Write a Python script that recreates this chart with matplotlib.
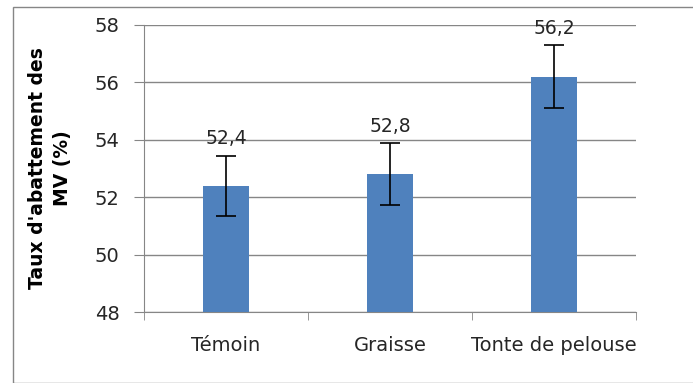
import matplotlib.pyplot as plt
from matplotlib.patches import Rectangle

# Donnees du graphique
categories = ['Témoin', 'Graisse', 'Tonte de pelouse']
valeurs = [52.4, 52.8, 56.2]
erreurs = [1.05, 1.08, 1.1]
etiquettes = ['52,4', '52,8', '56,2']

plt.rcParams['font.family'] = ['DejaVu Sans']
gris = '#868686'
texte = '#262626'

fig = plt.figure(figsize=(6.93, 3.83), dpi=100)
ax = fig.add_axes([144/693, 1-312/383, (636-144)/693, (312-25)/383])

x = range(len(categories))
ax.bar(x, valeurs, width=0.275, color='#4F81BD', zorder=3)
ax.errorbar(x, valeurs, yerr=erreurs, fmt='none', ecolor='black',
            elinewidth=1.2, capsize=7, capthick=1.2, zorder=4)

# Etiquettes de valeurs au-dessus des barres d'erreur
for i in x:
    ax.annotate(etiquettes[i], (i, valeurs[i] + erreurs[i]), xytext=(0, 8),
                textcoords='offset points', ha='center', va='baseline',
                fontsize=13.5, color=texte, zorder=5)

ax.set_xlim(-0.5, len(categories) - 0.5)
ax.set_ylim(48, 58)
ax.set_yticks([48, 50, 52, 54, 56, 58])
ax.yaxis.grid(True, color=gris, linewidth=1)
ax.set_axisbelow(True)

ax.set_xticks(x)
ax.set_xticklabels(categories, fontsize=14, color=texte)
ax.set_xticks([-0.5, 0.5, 1.5, 2.5], minor=True)
ax.tick_params(axis='x', which='major', length=0, pad=17)
ax.tick_params(axis='x', which='minor', length=6, color=gris, direction='out')
ax.tick_params(axis='y', length=7.5, color=gris, labelsize=14, labelcolor=texte,
               pad=10)

for cote in ['top', 'right']:
    ax.spines[cote].set_visible(False)
ax.spines['left'].set_color(gris)
ax.spines['bottom'].set_color(gris)

# Titre de l'axe Y
fig.text(50/693, 1-168/383, "Taux d'abattement des\nMV (%)", rotation=90,
         ha='center', va='center', fontsize=13.5, fontweight='bold',
         linespacing=1.35, multialignment='center')

# Cadre exterieur du graphique
fig.patches.append(Rectangle((13/693, 0), 1, 1-7/383, transform=fig.transFigure,
                             fill=False, edgecolor=gris, linewidth=1))

fig.savefig('out.png', dpi=100)
